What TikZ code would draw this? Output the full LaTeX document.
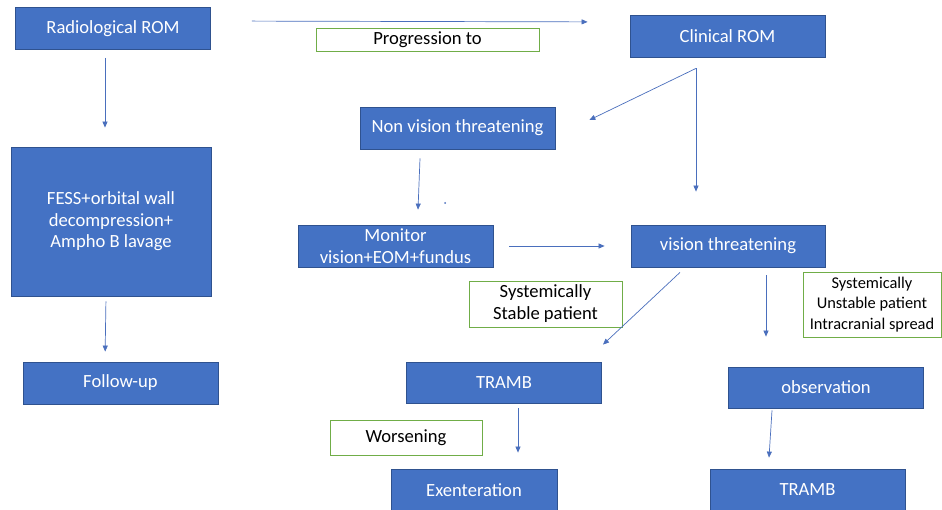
\documentclass[tikz,border=0pt]{standalone}
\usepackage{fontspec}
\setmainfont{Carlito}
\usetikzlibrary{arrows.meta}
\definecolor{cblue}{HTML}{4472C4}
\definecolor{cedge}{HTML}{2F528F}
\definecolor{cgreen}{HTML}{70AD47}
\definecolor{carrow}{HTML}{4A6FBD}
\tikzset{
  box/.style={draw=cedge, fill=cblue, text=white, line width=0.8pt, align=center, inner sep=2pt, minimum width=195pt, minimum height=42pt, font=\fontsize{18.6}{21.5}\selectfont},
  note/.style={draw=cgreen, fill=white, text=black, line width=0.9pt, align=center, inner sep=2pt, font=\fontsize{18.6}{22}\selectfont},
  arrow/.style={-{Triangle[length=6pt, width=5pt]}, draw=carrow, line width=0.7pt},
}

\begin{document}
\begin{tikzpicture}[x=1pt, y=-1pt]
  \useasboundingbox[fill=white] (0,0) rectangle (942,510);
  % left column: radiological ROM
  \node[box] (rad) at (113,28.5) {Radiological ROM};
  \node[box, minimum width=200pt, minimum height=149pt] (fess) at (111,221.5) {FESS+orbital wall\\decompression+\\Ampho B lavage};
  \node[box] (follow) at (120.5,383) {Follow-up};
  % right part: clinical ROM
  \node[note, minimum width=223pt, minimum height=23pt] (prog) at (427.5,39.5) {Progression to};
  \node[box] (clin) at (727.5,36) {Clinical ROM};
  \node[box] (nonv) at (457.5,128) {Non vision threatening};
  \node[box] (monitor) at (395.5,246) {Monitor\\vision+EOM+fundus};
  \node[box, minimum width=194pt] (vision) at (728,246) {vision threatening};
  \node[note, minimum width=153pt, minimum height=46pt] (stable) at (545.5,304) {Systemically\\Stable patient};
  \node[note, minimum width=138pt, minimum height=65pt, font=\fontsize{16.4}{20.5}\selectfont] (unstable) at (872,304.5) {Systemically\\Unstable patient\\Intracranial spread};
  \node[box, minimum height=41pt] (tramb) at (504,382.5) {TRAMB};
  \node[box, minimum height=41pt] (obs) at (826,387.5) {observation};
  \node[note, minimum width=152pt, minimum height=35pt] (worse) at (406,437.5) {Worsening};
  \node[box, minimum width=166pt] (exent) at (474,490) {Exenteration};
  \node[box] (tramb2) at (807.5,490) {TRAMB};
  \fill[carrow] (445,203) circle (1pt);
  % arrows, with the gaps of the original
  \draw[arrow, shorten <=8pt, shorten >=19pt] ([xshift=-8pt]rad.south) -- ([xshift=-6pt]fess.north);
  \draw[arrow, shorten <=5pt, shorten >=10pt] ([xshift=-5pt]fess.south) -- ([xshift=-15.5pt]follow.north);
  \draw[arrow, shorten <=41pt, shorten >=42pt] ([yshift=7.5pt]rad.east) -- ([yshift=14pt]clin.west);
  \draw[arrow] ([xshift=-31.5pt,yshift=-11pt]clin.south) -- ([xshift=34pt,yshift=8pt]nonv.east);
  \draw[arrow] ([xshift=-31.5pt,yshift=-11pt]clin.south) -- ([xshift=-32pt,yshift=33pt]vision.north);
  \draw[arrow] ([xshift=-37.5pt,yshift=-9pt]nonv.south) -- ([xshift=22.5pt,yshift=15pt]monitor.north);
  \draw[arrow] ([xshift=16pt]monitor.east) -- ([xshift=-26pt]vision.west);
  \draw[arrow] ([xshift=-48pt,yshift=-5pt]vision.south) -- ([xshift=99pt,yshift=17pt]tramb.north);
  \draw[arrow] ([xshift=38pt,yshift=-8pt]vision.south) -- ([xshift=-60pt,yshift=30pt]obs.north);
  \draw[arrow] ([xshift=14pt,yshift=-5pt]tramb.south) -- ([xshift=44pt,yshift=16pt]exent.north);
  \draw[arrow] ([xshift=-54pt,yshift=-2pt]obs.south) -- ([xshift=-38.5pt,yshift=11pt]tramb2.north);
\end{tikzpicture}
\end{document}
